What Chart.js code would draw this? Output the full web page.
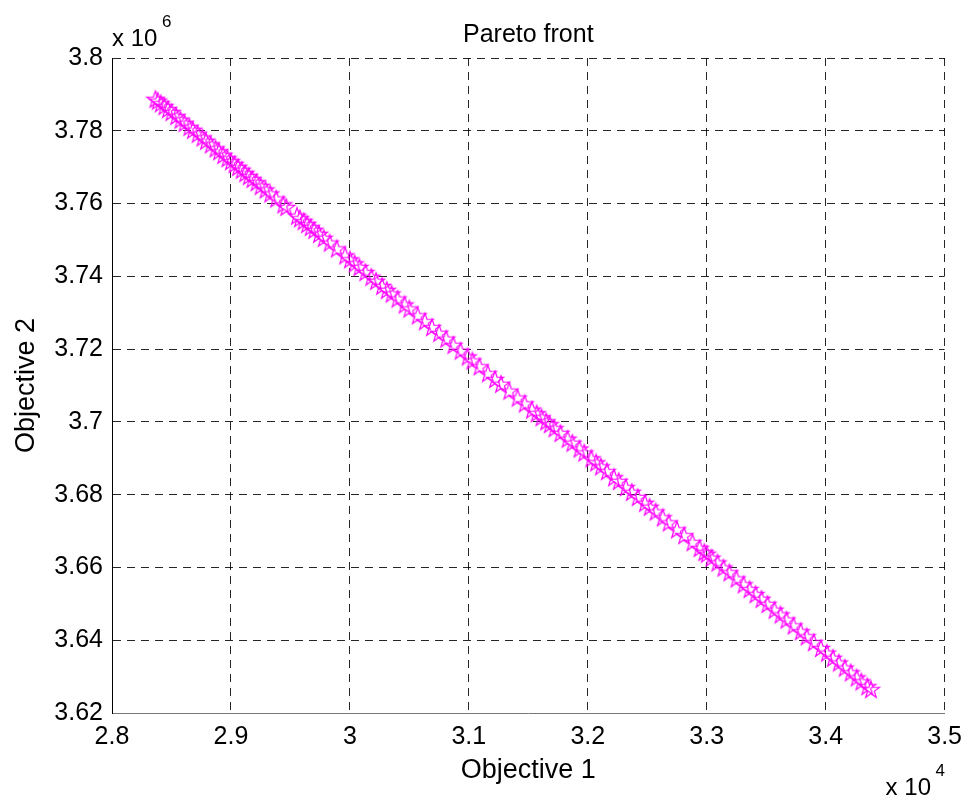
<!DOCTYPE html>
<html>
<head>
<meta charset="utf-8">
<script src="https://cdn.jsdelivr.net/npm/chart.js@4"></script>
<style>
  html, body { margin: 0; padding: 0; background: #fff; }
  #wrap { width: 971px; height: 801px; position: relative; }
</style>
</head>
<body>
<div id="wrap"><canvas id="pareto"></canvas></div>
<script>
// objective 1 values (x 10^4) and objective 2 values (x 10^6)
const obj1 = [
  2.8365, 2.8385, 2.8410, 2.8440, 2.8470, 2.8500, 2.8540, 2.8575, 2.8610, 2.8650,
  2.8680, 2.8720, 2.8760, 2.8790, 2.8830, 2.8870, 2.8900, 2.8935, 2.8970, 2.9000,
  2.9030, 2.9060, 2.9090, 2.9120, 2.9150, 2.9180, 2.9215, 2.9250, 2.9290, 2.9330,
  2.9380, 2.9440, 2.9465,
  2.9555, 2.9580, 2.9610, 2.9640, 2.9670, 2.9700, 2.9740, 2.9780, 2.9830, 2.9890,
  2.9960, 3.0000, 3.0040, 3.0080, 3.0130, 3.0180, 3.0220,
  3.0270, 3.0310, 3.0350, 3.0400, 3.0460, 3.0500, 3.0570, 3.0630, 3.0690, 3.0750,
  3.0810, 3.0870, 3.0930, 3.0990, 3.1030, 3.1090, 3.1160, 3.1220, 3.1270, 3.1340,
  3.1410, 3.1470,
  3.1530, 3.1570, 3.1610, 3.1650, 3.1680, 3.1720, 3.1770, 3.1830, 3.1870, 3.1930,
  3.1970, 3.2030, 3.2070, 3.2110,
  3.2160, 3.2220, 3.2260, 3.2320, 3.2370, 3.2420, 3.2480, 3.2520, 3.2570, 3.2630,
  3.2680, 3.2750, 3.2810, 3.2880, 3.2940, 3.2980, 3.3000, 3.3040, 3.3090, 3.3140,
  3.3190, 3.3250, 3.3310, 3.3360, 3.3410, 3.3460, 3.3510, 3.3570, 3.3620, 3.3670,
  3.3730, 3.3790, 3.3840, 3.3900, 3.3960, 3.4010, 3.4060, 3.4110, 3.4160, 3.4210,
  3.4260, 3.4300, 3.4350, 3.4380
];
const obj2 = [
  3.7885, 3.7880, 3.7873, 3.7865, 3.7857, 3.7849, 3.7838, 3.7828, 3.7819, 3.7808,
  3.7800, 3.7789, 3.7779, 3.7770, 3.7760, 3.7749, 3.7741, 3.7731, 3.7722, 3.7714,
  3.7706, 3.7698, 3.7690, 3.7681, 3.7673, 3.7665, 3.7656, 3.7646, 3.7636, 3.7625,
  3.7611, 3.7595, 3.7588,
  3.7564, 3.7557, 3.7549, 3.7541, 3.7533, 3.7525, 3.7514, 3.7503, 3.7490, 3.7474,
  3.7455, 3.7444, 3.7433, 3.7423, 3.7409, 3.7396, 3.7385,
  3.7371, 3.7360, 3.7350, 3.7336, 3.7320, 3.7309, 3.7290, 3.7274, 3.7258, 3.7242,
  3.7226, 3.7209, 3.7193, 3.7177, 3.7166, 3.7150, 3.7131, 3.7115, 3.7102, 3.7083,
  3.7064, 3.7048,
  3.7031, 3.7021, 3.7010, 3.6999, 3.6991, 3.6980, 3.6967, 3.6951, 3.6940, 3.6924,
  3.6913, 3.6897, 3.6886, 3.6875,
  3.6862, 3.6845, 3.6835, 3.6818, 3.6805, 3.6791, 3.6775, 3.6764, 3.6751, 3.6735,
  3.6721, 3.6702, 3.6686, 3.6667, 3.6651, 3.6640, 3.6635, 3.6624, 3.6611, 3.6597,
  3.6584, 3.6567, 3.6551, 3.6538, 3.6524, 3.6511, 3.6497, 3.6481, 3.6468, 3.6454,
  3.6438, 3.6422, 3.6408, 3.6392, 3.6376, 3.6363, 3.6349, 3.6336, 3.6322, 3.6309,
  3.6295, 3.6284, 3.6271, 3.6263
];

const xTicks = [2.8, 2.9, 3.0, 3.1, 3.2, 3.3, 3.4, 3.5];
const xTickLabels = ["2.8", "2.9", "3", "3.1", "3.2", "3.3", "3.4", "3.5"];
const yTicks = [3.62, 3.64, 3.66, 3.68, 3.70, 3.72, 3.74, 3.76, 3.78, 3.80];
const yTickLabels = ["3.62", "3.64", "3.66", "3.68", "3.7", "3.72", "3.74", "3.76", "3.78", "3.8"];

const FONT = "'Liberation Sans', Arial, Helvetica, sans-serif";

// matlab style pentagram marker
function pentagram(r) {
    const size = Math.ceil(r * 2 + 4);
    const c = document.createElement("canvas");
    c.width = size;
    c.height = size;
    const g = c.getContext("2d");
    g.strokeStyle = "#ff00ff";
    g.lineWidth = 1.2;
    g.beginPath();
    for (let i = 0; i < 10; i++) {
        const a = -Math.PI / 2 + i * Math.PI / 5;
        const rr = i % 2 ? r * 0.4 : r;
        g.lineTo(size / 2 + rr * Math.cos(a), size / 2 + rr * Math.sin(a));
    }
    g.closePath();
    g.stroke();
    return c;
}

const points = obj1.map((x, i) => ({ x: x, y: obj2[i] }));

// "x 10^n" exponent labels like matlab draws them
const exponentLabels = {
    id: "exponentLabels",
    afterDraw(chart) {
        const ctx = chart.ctx;
        const area = chart.chartArea;
        ctx.save();
        ctx.fillStyle = "#000";
        ctx.textBaseline = "alphabetic";
        ctx.textAlign = "left";

        ctx.font = "24px " + FONT;
        ctx.fillText("x 10", area.left, area.top - 12);
        ctx.font = "17px " + FONT;
        ctx.fillText("6", area.left + 50, area.top - 31);

        ctx.font = "24px " + FONT;
        ctx.fillText("x 10", area.right - 59, chart.height - 6);
        ctx.font = "17px " + FONT;
        ctx.fillText("4", area.right - 9, chart.height - 25);
        ctx.restore();
    }
};

const canvas = document.getElementById("pareto");
const ctx = canvas.getContext("2d");

new Chart(ctx, {
    type: "scatter",
    data: {
        datasets: [{
            label: "Pareto front",
            data: points,
            pointStyle: pentagram(9),
            pointRadius: 9,
            showLine: false
        }]
    },
    options: {
        responsive: true,
        maintainAspectRatio: false,
        animation: false,
        layout: { padding: { left: 0, right: 25, top: 0, bottom: 0 } },
        plugins: {
            legend: { display: false },
            tooltip: { enabled: false },
            title: {
                display: true,
                text: "Pareto front",
                color: "#000",
                fullSize: false,
                font: { family: FONT, size: 25, weight: "normal" },
                padding: { top: 20, bottom: 8 }
            }
        },
        scales: {
            x: {
                type: "linear",
                min: 2.8,
                max: 3.5,
                afterBuildTicks: function (scale) {
                    scale.ticks = xTicks.map(v => ({ value: v }));
                },
                afterFit: function (scale) {
                    scale.height = 88;
                },
                ticks: {
                    color: "#000",
                    font: { family: FONT, size: 25 },
                    padding: 9,
                    maxRotation: 0,
                    callback: function (v, i) { return xTickLabels[i]; }
                },
                grid: {
                    color: "rgba(0,0,0,0.85)",
                    lineWidth: 1,
                    drawTicks: false
                },
                border: { display: true, color: "#777", width: 1, dash: [8, 6] },
                title: {
                    display: true,
                    text: "Objective 1",
                    color: "#000",
                    font: { family: FONT, size: 27 },
                    padding: { top: 0, bottom: 14 }
                }
            },
            y: {
                type: "linear",
                min: 3.62,
                max: 3.8,
                afterBuildTicks: function (scale) {
                    scale.ticks = yTicks.map(v => ({ value: v }));
                },
                afterFit: function (scale) {
                    scale.width = 112;
                },
                ticks: {
                    color: "#000",
                    font: { family: FONT, size: 25 },
                    padding: 9,
                    callback: function (v, i) { return yTickLabels[i]; }
                },
                grid: {
                    color: "rgba(0,0,0,0.85)",
                    lineWidth: 1,
                    drawTicks: false
                },
                border: { display: true, color: "#000", width: 1, dash: [8, 6] },
                title: {
                    display: true,
                    text: "Objective 2",
                    color: "#000",
                    font: { family: FONT, size: 27 },
                    padding: { top: 10, bottom: 0 }
                }
            }
        }
    },
    plugins: [exponentLabels]
});
</script>
</body>
</html>
